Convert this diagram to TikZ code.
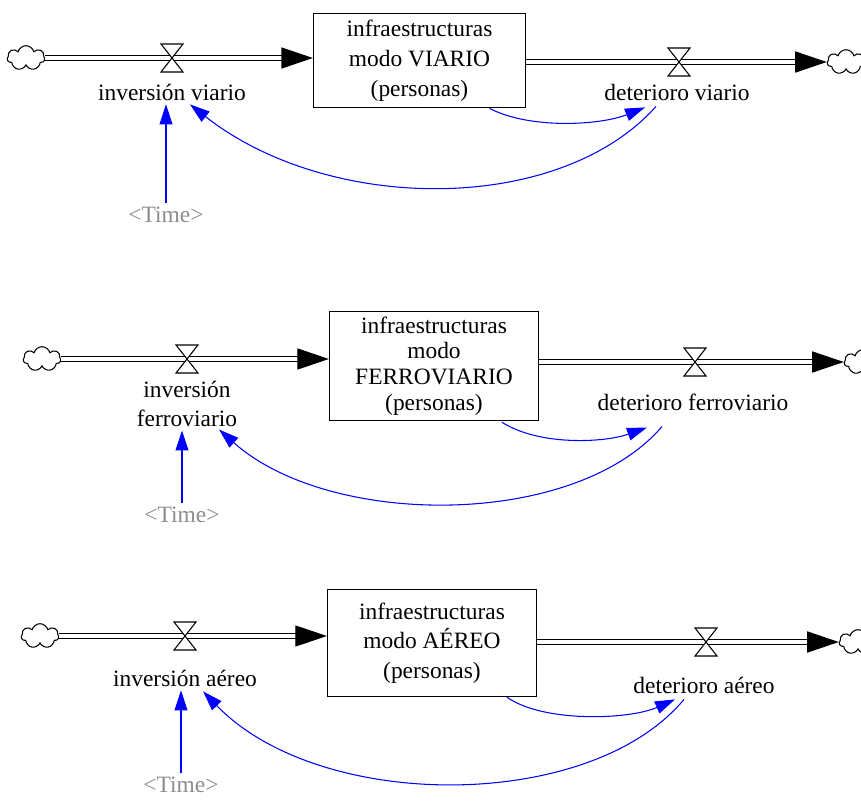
\documentclass[tikz,border=0pt]{standalone}
\usepackage{fontspec}
\setmainfont{Liberation Serif}
\usetikzlibrary{arrows.meta,shapes.symbols,calc}

\begin{document}
\begin{tikzpicture}[x=0.03cm,y=-0.03cm,
    stock/.style={draw,line width=0.9pt,align=center,inner sep=0pt},
    flowlabel/.style={align=center,font=\fontsize{20}{24}\selectfont},
    timelabel/.style={text=black!45,font=\fontsize{20}{24}\selectfont},
    source/.style={cloud,cloud puffs=7,aspect=1.5,draw,line width=0.9pt,
        minimum width=32pt,minimum height=21pt,inner sep=0pt},
    pipe/.style={double,double distance=3.2pt,line width=1.2pt,
        -{Triangle[length=27pt,width=18pt]}},
    link/.style={blue,line width=0.9pt,-{Triangle[length=17pt,width=11pt]}},
    valve/.pic={\draw[fill=white,line width=0.9pt]
        (-11,-14) -- (11,-14) -- (-11,14) -- (11,14) -- cycle;}]
    \useasboundingbox (0,0) rectangle (861,800);

    % viario
    \node[stock,minimum width=181pt,minimum height=80.75pt,
        font=\fontsize{20}{25.5}\selectfont] (st1) at (419.5,60.5)
        {infraestructuras\\modo VIARIO\\(personas)};
    \node[source] (cL1) at (26,58) {};
    \node[source] (cR1) at (846,62) {};
    \coordinate (vi1) at (172,58);
    \coordinate (vd1) at (679,62);
    \draw[pipe] (cL1.east) -- (cL1.east -| st1.west);
    \draw[pipe] (st1.east |- cR1.west) -- (cR1.west);
    \pic at (vi1) {valve};
    \pic at (vd1) {valve};
    \node[flowlabel] (inv1) at (172,92) {inversión viario};
    \node[flowlabel] (det1) at (677,92) {deterioro viario};
    \node[timelabel] (time1) at (166,215) {<Time>};
    \draw[link] ($(st1.south)+(70,0)$) .. controls +(40,21) and +(-45,18) .. ($(det1.south)+(-32,3)$);
    \draw[link] ($(det1.south)+(-21,2)$) .. controls +(-96,108) and +(140,110) .. ($(inv1.south)+(18,0)$);
    \draw[link] (time1.north) -- (time1.north |- inv1.south);

    % ferroviario
    \node[stock,minimum width=178.5pt,minimum height=93.5pt,
        font=\fontsize{20}{22}\selectfont] (st2) at (434,366)
        {infraestructuras\\modo\\FERROVIARIO\\(personas)};
    \node[source] (cL2) at (42,359) {};
    \node[source] (cR2) at (863,362) {};
    \coordinate (vi2) at (187,359);
    \coordinate (vd2) at (695,362);
    \draw[pipe] (cL2.east) -- (cL2.east -| st2.west);
    \draw[pipe] (st2.east |- cR2.west) -- (cR2.west);
    \pic at (vi2) {valve};
    \pic at (vd2) {valve};
    \node[flowlabel] (inv2) at (187,404) {inversión\\ferroviario};
    \node[flowlabel] (det2) at (693,402) {deterioro ferroviario};
    \node[timelabel] (time2) at (182,515) {<Time>};
    \draw[link] ($(st2.south)+(68,1)$) .. controls +(38,24) and +(-42,15) .. ($(det2.south)+(-46,13)$);
    \draw[link] ($(det2.south)+(-31,12)$) .. controls +(-87,102) and +(111,99) .. ($(inv2.south)+(32,-1)$);
    \draw[link] (time2.north) -- (time2.north |- inv2.south);

    % aereo
    \node[stock,minimum width=178.5pt,minimum height=91.8pt,
        font=\fontsize{20}{25}\selectfont] (st3) at (432,643)
        {infraestructuras\\modo AÉREO\\(personas)};
    \node[source] (cL3) at (40,636) {};
    \node[source] (cR3) at (858,642) {};
    \coordinate (vi3) at (185,636);
    \coordinate (vd3) at (706,642);
    \draw[pipe] (cL3.east) -- (cL3.east -| st3.west);
    \draw[pipe] (st3.east |- cR3.west) -- (cR3.west);
    \pic at (vi3) {valve};
    \pic at (vd3) {valve};
    \node[flowlabel] (inv3) at (185,678) {inversión aéreo};
    \node[flowlabel] (det3) at (704,685) {deterioro aéreo};
    \node[timelabel] (time3) at (181,785) {<Time>};
    \draw[link] ($(st3.south)+(75,0)$) .. controls +(38,26) and +(-45,20) .. ($(det3.south)+(-29,2)$);
    \draw[link] ($(det3.south)+(-20,2)$) .. controls +(-94,113) and +(117,121) .. ($(inv3.south)+(18,1)$);
    \draw[link] (time3.north) -- (time3.north |- inv3.south);
\end{tikzpicture}
\end{document}
